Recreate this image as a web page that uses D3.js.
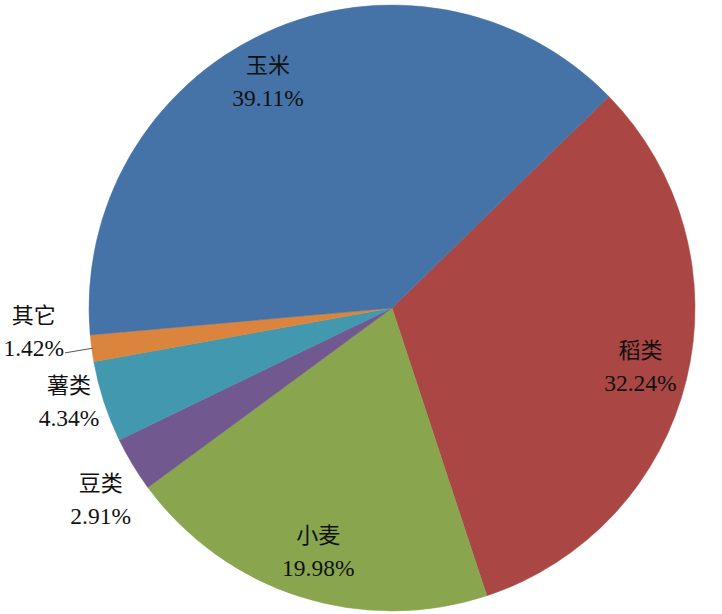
<!DOCTYPE html>
<html><head><meta charset="utf-8">
<script src="https://cdn.jsdelivr.net/npm/d3@7"></script>
<style>html,body{margin:0;padding:0;background:#fff;}svg{display:block;}</style>
</head><body>
<svg id="chart" width="722" height="614"></svg>
<script>
const categories = ["稻类", "小麦", "豆类", "薯类", "其它", "玉米"];
const values = [32.24, 19.98, 2.91, 4.34, 1.42, 39.11];
const percentLabels = ["32.24%", "19.98%", "2.91%", "4.34%", "1.42%", "39.11%"];
const colors = ["#AA4643", "#89A54E", "#71588F", "#4198AF", "#DB843D", "#4572A7"];

const W = 722, H = 614;
const cx = 392, cy = 308, R = 303;
const startDeg = 45.7;
const svg = d3.select("#chart");
const g = svg.append("g").attr("transform", `translate(${cx},${cy})`);

const pie = d3.pie().sort(null).value(d => d)
  .startAngle(startDeg * Math.PI / 180)
  .endAngle((startDeg + 360) * Math.PI / 180);
const arcs = pie(values);
const arc = d3.arc().innerRadius(0).outerRadius(R);

g.selectAll("path.slice").data(arcs).enter().append("path")
  .attr("class", "slice")
  .attr("d", arc)
  .attr("fill", (d, i) => colors[i])
  .attr("stroke", (d, i) => colors[i])
  .attr("stroke-width", 0.5);

// label placement style: radius and angular shift (degrees) for each slice
const labelStyle = [
  { r: 255, da: -0.7 },
  { r: 253, da: -0.8 },
  { r: 348, da: -2.1 },
  { r: 336, da: 2.0 },
  { r: 359, da: 4.0 },
  { r: 259, da: -3.9 }
];

const lg = g.append("g");
arcs.forEach((d, i) => {
  const mid = (d.startAngle + d.endAngle) / 2;
  const a = mid + labelStyle[i].da * Math.PI / 180;
  const r = labelStyle[i].r;
  const x = Math.sin(a) * r, y = -Math.cos(a) * r;
  lg.append("text")
    .attr("x", x).attr("y", y - 17.5)
    .attr("text-anchor", "middle").attr("dominant-baseline", "central")
    .attr("font-family", "'Noto Sans CJK SC', sans-serif")
    .attr("font-size", 22).attr("fill", "#111")
    .text(categories[i]);
  const t = lg.append("text")
    .attr("x", x).attr("y", y + 17.5)
    .attr("text-anchor", "middle").attr("dominant-baseline", "central")
    .attr("font-family", "'Liberation Serif', 'Times New Roman', serif")
    .attr("font-size", 23.5).attr("fill", "#111")
    .text(percentLabels[i]);
  if (categories[i] === "其它") {
    const bb = t.node().getBBox();
    const ex = Math.sin(mid) * (R - 1), ey = -Math.cos(mid) * (R - 1);
    lg.append("path")
      .attr("d", `M${bb.x + bb.width + 1},${y + 22} L${ex},${ey}`)
      .attr("stroke", "#555").attr("stroke-width", 1).attr("fill", "none");
  }
});
</script>
</body></html>
